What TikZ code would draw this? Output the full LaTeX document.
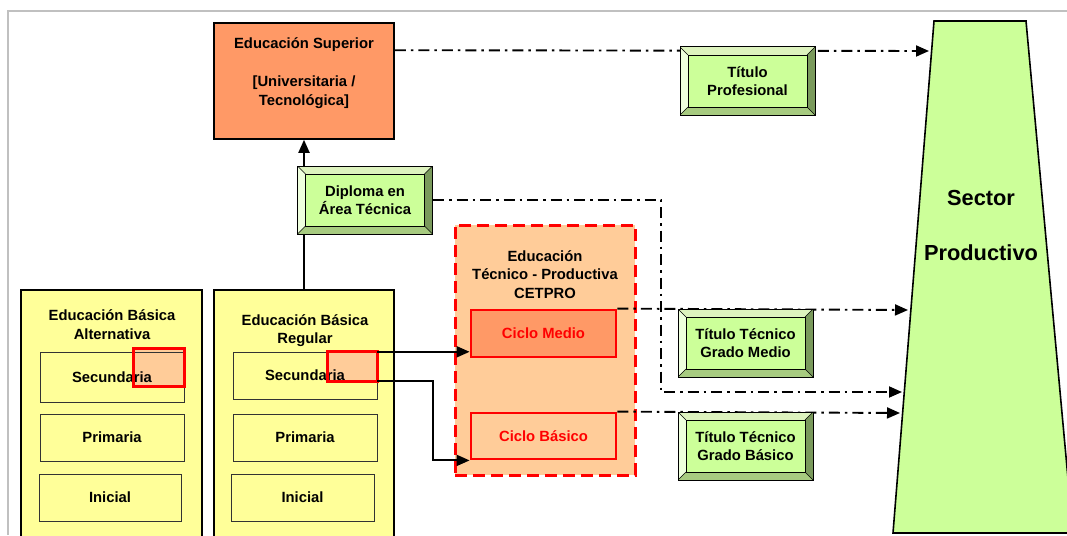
\documentclass[tikz,border=0pt]{standalone}
\usepackage{fontspec}
\setmainfont{Liberation Sans}
\usetikzlibrary{arrows.meta,calc}
\definecolor{supcol}{HTML}{FF9966}
\definecolor{ebcol}{HTML}{FFFF99}
\definecolor{etpcol}{HTML}{FFCC99}
\definecolor{spcol}{HTML}{CCFF99}
\definecolor{bvtop}{HTML}{DDF3BE}
\definecolor{bvleft}{HTML}{EEFFDD}
\definecolor{bvright}{HTML}{7A9A5C}
\definecolor{bvbot}{HTML}{A7CB80}
\definecolor{framecol}{HTML}{C0C0C0}
\tikzset{
  titulo/.style={draw=black,line width=1pt,fill=spcol,minimum width=135pt,minimum height=68pt,
    path picture={
      \path (path picture bounding box.north west) coordinate (bnw)
            (path picture bounding box.north east) coordinate (bne)
            (path picture bounding box.south west) coordinate (bsw)
            (path picture bounding box.south east) coordinate (bse);
      \fill[bvtop] (bnw) -- (bne) -- ++(-8pt,-8pt) -- ($(bnw)+(8pt,-8pt)$) -- cycle;
      \fill[bvleft] (bnw) -- (bsw) -- ++(8pt,8pt) -- ($(bnw)+(8pt,-8pt)$) -- cycle;
      \fill[bvright] (bne) -- (bse) -- ++(-8pt,8pt) -- ($(bne)+(-8pt,-8pt)$) -- cycle;
      \fill[bvbot] (bsw) -- (bse) -- ++(-8pt,8pt) -- ($(bsw)+(8pt,8pt)$) -- cycle;
      \draw[line width=.8pt] ($(bsw)+(8pt,8pt)$) rectangle ($(bne)+(-8pt,-8pt)$);
      \draw[line width=.4pt] (bnw) -- ++(8pt,-8pt) (bne) -- ++(-8pt,-8pt)
            (bsw) -- ++(8pt,8pt) (bse) -- ++(-8pt,8pt);
    }}
}
\begin{document}
\begin{tikzpicture}[x=1pt,y=-1pt,>={Triangle[length=13pt,width=11pt]},
  every node/.style={font=\bfseries\fontsize{14.8}{18.5}\selectfont,align=center,inner sep=0pt},
  caja/.style={draw=black,line width=1.6pt},
  nivel/.style={draw=black!80,line width=.9pt,minimum width=144pt,minimum height=47pt},
  ciclo/.style={draw=red,line width=2.8pt,text=red,minimum width=145pt,minimum height=47pt},
  marca/.style={fill=etpcol,minimum width=50pt,minimum height=37pt},
  flujo/.style={line width=1.9pt,->},
  salida/.style={line width=1.9pt,->,dash pattern=on 11pt off 5pt on 2.5pt off 5pt}]
\useasboundingbox (0,0) rectangle (1067,535);
\draw[framecol,line width=1.2pt] (8,535) -- (8,11) -- (1067,11);

% sector productivo
\draw[fill=spcol,line width=1.6pt] (934,21) -- (1026,21) -- (1073,533) -- (893,533) -- cycle;
\node[font=\bfseries\fontsize{21.8}{25}\selectfont] (sector) at (981,225) {Sector\\[30pt]Productivo};
\coordinate (psup) at (929,51);
\coordinate (pmed) at (908,310);
\coordinate (pdip) at (902,392);
\coordinate (pbas) at (900,413);

% educacion superior y diploma
\node[caja,fill=supcol,minimum width=180pt,minimum height=116pt] (sup) at (304,81) {};
\node (suptxt) at (304,73) {Educación Superior\\[20pt]{[}Universitaria /\\Tecnológica{]}};
\node[titulo] (dip) at (365,200) {Diploma en\\Área Técnica};

% educacion basica
\node[caja,fill=ebcol,minimum width=181pt,minimum height=255pt] (eba) at (111.5,417.5) {};
\node[caja,fill=ebcol,minimum width=180pt,minimum height=255pt] (ebr) at (304,417.5) {};
\node (ebatxt) at (112,324.5) {Educación Básica\\Alternativa};
\node (ebrtxt) at (305,330.5) {Educación Básica\\Regular};
\node[marca] (ebahl) at (159,367.5) {};
\node[marca,minimum width=49pt,minimum height=29pt] (ebrhl) at (352.5,366.5) {};
\node[nivel,minimum height=50pt] (ebasec) at (112,377) {Secundaria};
\node[nivel] (ebapri) at (112,437.5) {Primaria};
\node[nivel,minimum width=142pt] (ebaini) at (110,497.5) {Inicial};
\node[nivel] (ebrsec) at (305,375.5) {Secundaria};
\node[nivel] (ebrpri) at (305,437.5) {Primaria};
\node[nivel,minimum width=143pt] (ebrini) at (302.5,497.5) {Inicial};
\draw[red,line width=2.8pt] (ebahl.north west) rectangle (ebahl.south east);
\draw[red,line width=2.8pt] (ebrhl.north west) rectangle (ebrhl.south east);

% cetpro
\node[fill=etpcol,draw=red,line width=3pt,dash pattern=on 12pt off 6pt,minimum width=180pt,minimum height=250pt] (cet) at (545,350) {};
\node (cettxt) at (545,274.5) {Educación\\Técnico - Productiva\\CETPRO};
\node[ciclo,fill=supcol] (cmed) at (543.5,333.5) {Ciclo Medio};
\node[ciclo,fill=etpcol,minimum height=46pt] (cbas) at (543.5,436) {Ciclo Básico};

% conectores
\draw[flujo] (dip.north -| sup.south) -- (sup.south);
\draw[line width=1.9pt] (ebr.north) -- (ebr.north |- dip.south);
\draw[flujo] (ebrhl.north east) -- (ebrhl.north east -| cmed.west);
\draw[flujo] (ebrhl.south east) -- ++(56,0) |- (cbas.south west);
\draw[salida] ([yshift=-28pt]sup.north east) -- (psup);
\draw[salida] (cmed.north east) -- (pmed);
\draw[salida] (cbas.north east) -- (pbas);
\coordinate (dbend) at (661,392);
\draw[salida] (dip.east) -| (dbend) -- (pdip);

% titulos
\node[titulo] (tprof) at (747.5,81) {Título\\Profesional};
\node[titulo] (tmed) at (745.5,343) {Título Técnico\\Grado Medio};
\node[titulo] (tbas) at (745.5,446) {Título Técnico\\Grado Básico};
\end{tikzpicture}
\end{document}
